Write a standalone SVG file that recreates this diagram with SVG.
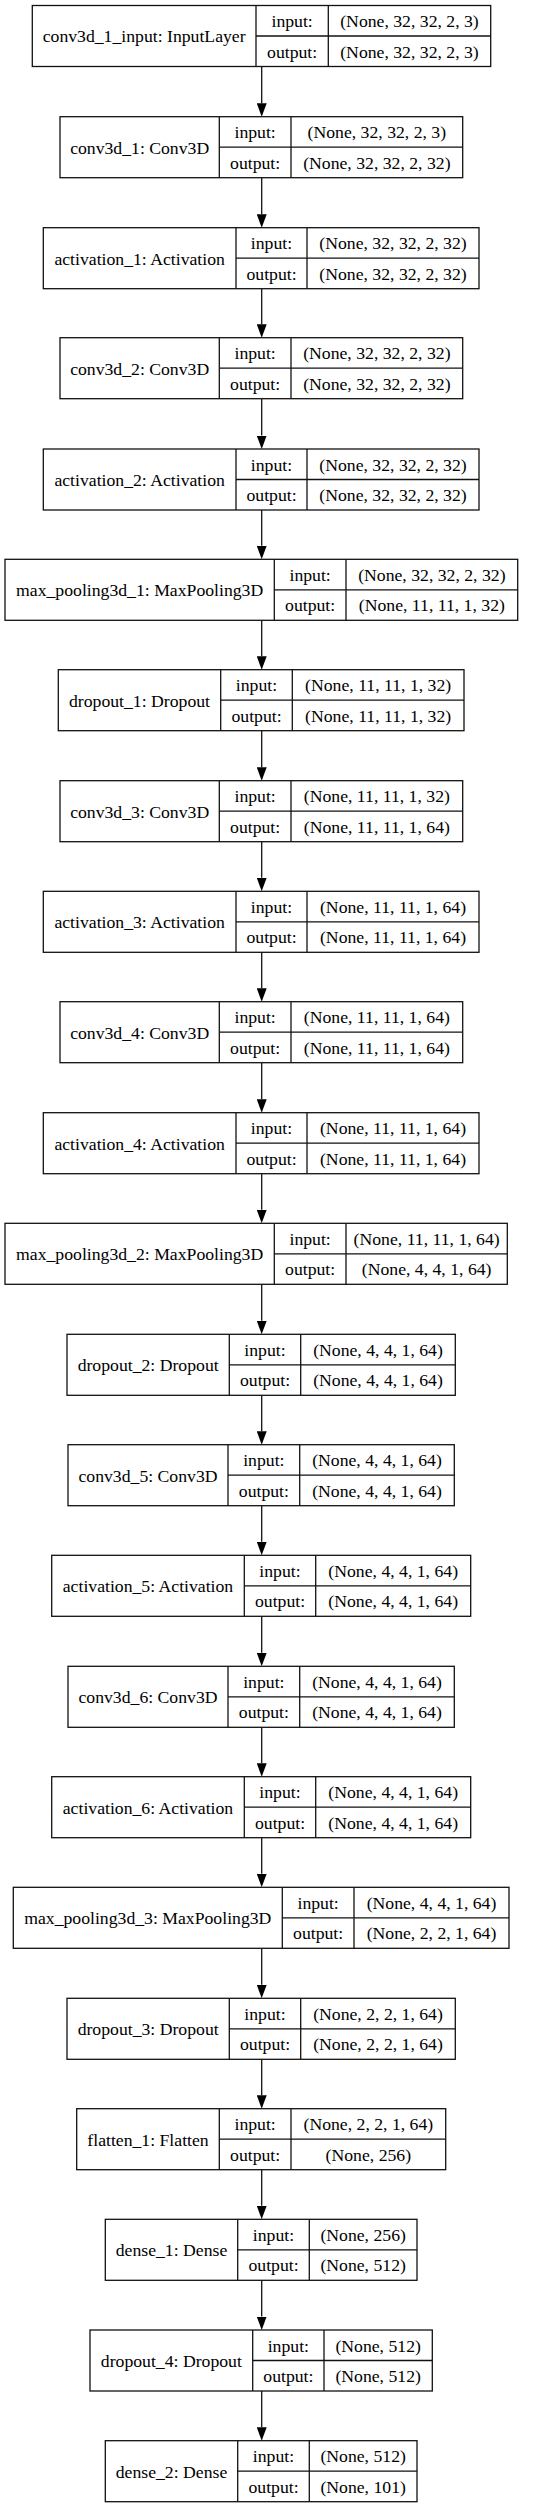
<svg xmlns="http://www.w3.org/2000/svg" width="536" height="2508" viewBox="0 0 536 2508">
<style>
.bg{fill:#fff}
.box{fill:#fff;stroke:#111;stroke-width:1.3}
.sep{stroke:#111;stroke-width:1.3}
.edge{stroke:#111;stroke-width:1.3;fill:none}
text{font-family:"Liberation Serif","Times New Roman",serif;font-size:17.7px;text-anchor:middle;fill:#000}
</style>
<defs>
<marker id="arr" markerUnits="userSpaceOnUse" markerWidth="14" markerHeight="10" refX="0" refY="5" orient="auto">
<path d="M0,0 L13.5,5 L0,10 z" fill="#000"/>
</marker>
</defs>
<rect class="bg" x="0" y="0" width="536" height="2508"/>
<g id="connectors">
<line class="edge" x1="261.7" y1="66.5" x2="261.7" y2="103.2" marker-end="url(#arr)"/>
<line class="edge" x1="261.7" y1="177.7" x2="261.7" y2="214.2" marker-end="url(#arr)"/>
<line class="edge" x1="261.7" y1="288.7" x2="261.7" y2="324.2" marker-end="url(#arr)"/>
<line class="edge" x1="261.7" y1="398.7" x2="261.7" y2="435.5" marker-end="url(#arr)"/>
<line class="edge" x1="261.7" y1="510" x2="261.7" y2="545.8" marker-end="url(#arr)"/>
<line class="edge" x1="261.7" y1="620.3" x2="261.7" y2="656.2" marker-end="url(#arr)"/>
<line class="edge" x1="261.7" y1="730.7" x2="261.7" y2="767.2" marker-end="url(#arr)"/>
<line class="edge" x1="261.7" y1="841.7" x2="261.7" y2="877.8" marker-end="url(#arr)"/>
<line class="edge" x1="261.7" y1="952.3" x2="261.7" y2="988.2" marker-end="url(#arr)"/>
<line class="edge" x1="261.7" y1="1062.7" x2="261.7" y2="1099.2" marker-end="url(#arr)"/>
<line class="edge" x1="261.7" y1="1173.7" x2="261.7" y2="1209.8" marker-end="url(#arr)"/>
<line class="edge" x1="261.7" y1="1284.3" x2="261.7" y2="1320.8" marker-end="url(#arr)"/>
<line class="edge" x1="261.7" y1="1395.3" x2="261.7" y2="1431.2" marker-end="url(#arr)"/>
<line class="edge" x1="261.7" y1="1505.7" x2="261.7" y2="1541.8" marker-end="url(#arr)"/>
<line class="edge" x1="261.7" y1="1616.3" x2="261.7" y2="1652.8" marker-end="url(#arr)"/>
<line class="edge" x1="261.7" y1="1727.3" x2="261.7" y2="1763.2" marker-end="url(#arr)"/>
<line class="edge" x1="261.7" y1="1837.7" x2="261.7" y2="1873.8" marker-end="url(#arr)"/>
<line class="edge" x1="261.7" y1="1948.3" x2="261.7" y2="1984.8" marker-end="url(#arr)"/>
<line class="edge" x1="261.7" y1="2059.3" x2="261.7" y2="2095.2" marker-end="url(#arr)"/>
<line class="edge" x1="261.7" y1="2169.7" x2="261.7" y2="2205.8" marker-end="url(#arr)"/>
<line class="edge" x1="261.7" y1="2280.3" x2="261.7" y2="2316.5" marker-end="url(#arr)"/>
<line class="edge" x1="261.7" y1="2391" x2="261.7" y2="2427.2" marker-end="url(#arr)"/>
</g>
<g id="conv3d_1_input">
<rect class="box" x="32.3" y="5.5" width="458.4" height="61"/>
<line class="sep" x1="256" y1="5.5" x2="256" y2="66.5"/><line class="sep" x1="328.3" y1="5.5" x2="328.3" y2="66.5"/><line class="sep" x1="256" y1="36" x2="490.7" y2="36"/>
<text x="144.15" y="42.3">conv3d_1_input: InputLayer</text>
<text x="292.15" y="27.05">input:</text><text x="292.15" y="57.55">output:</text>
<text x="409.5" y="27.05">(None, 32, 32, 2, 3)</text><text x="409.5" y="57.55">(None, 32, 32, 2, 3)</text>
</g>
<g id="conv3d_1">
<rect class="box" x="60" y="116.7" width="402.7" height="61"/>
<line class="sep" x1="219.3" y1="116.7" x2="219.3" y2="177.7"/><line class="sep" x1="291" y1="116.7" x2="291" y2="177.7"/><line class="sep" x1="219.3" y1="147.2" x2="462.7" y2="147.2"/>
<text x="139.65" y="153.5">conv3d_1: Conv3D</text>
<text x="255.15" y="138.25">input:</text><text x="255.15" y="168.75">output:</text>
<text x="376.85" y="138.25">(None, 32, 32, 2, 3)</text><text x="376.85" y="168.75">(None, 32, 32, 2, 32)</text>
</g>
<g id="activation_1">
<rect class="box" x="43.3" y="227.7" width="435.7" height="61"/>
<line class="sep" x1="236" y1="227.7" x2="236" y2="288.7"/><line class="sep" x1="307" y1="227.7" x2="307" y2="288.7"/><line class="sep" x1="236" y1="258.2" x2="479" y2="258.2"/>
<text x="139.65" y="264.5">activation_1: Activation</text>
<text x="271.5" y="249.25">input:</text><text x="271.5" y="279.75">output:</text>
<text x="393" y="249.25">(None, 32, 32, 2, 32)</text><text x="393" y="279.75">(None, 32, 32, 2, 32)</text>
</g>
<g id="conv3d_2">
<rect class="box" x="60" y="337.7" width="402.7" height="61"/>
<line class="sep" x1="219.3" y1="337.7" x2="219.3" y2="398.7"/><line class="sep" x1="291" y1="337.7" x2="291" y2="398.7"/><line class="sep" x1="219.3" y1="368.2" x2="462.7" y2="368.2"/>
<text x="139.65" y="374.5">conv3d_2: Conv3D</text>
<text x="255.15" y="359.25">input:</text><text x="255.15" y="389.75">output:</text>
<text x="376.85" y="359.25">(None, 32, 32, 2, 32)</text><text x="376.85" y="389.75">(None, 32, 32, 2, 32)</text>
</g>
<g id="activation_2">
<rect class="box" x="43.3" y="449" width="435.7" height="61"/>
<line class="sep" x1="236" y1="449" x2="236" y2="510"/><line class="sep" x1="307" y1="449" x2="307" y2="510"/><line class="sep" x1="236" y1="479.5" x2="479" y2="479.5"/>
<text x="139.65" y="485.8">activation_2: Activation</text>
<text x="271.5" y="470.55">input:</text><text x="271.5" y="501.05">output:</text>
<text x="393" y="470.55">(None, 32, 32, 2, 32)</text><text x="393" y="501.05">(None, 32, 32, 2, 32)</text>
</g>
<g id="max_pooling3d_1">
<rect class="box" x="5" y="559.3" width="512.7" height="61"/>
<line class="sep" x1="274.3" y1="559.3" x2="274.3" y2="620.3"/><line class="sep" x1="346" y1="559.3" x2="346" y2="620.3"/><line class="sep" x1="274.3" y1="589.8" x2="517.7" y2="589.8"/>
<text x="139.65" y="596.1">max_pooling3d_1: MaxPooling3D</text>
<text x="310.15" y="580.85">input:</text><text x="310.15" y="611.35">output:</text>
<text x="431.85" y="580.85">(None, 32, 32, 2, 32)</text><text x="431.85" y="611.35">(None, 11, 11, 1, 32)</text>
</g>
<g id="dropout_1">
<rect class="box" x="58.3" y="669.7" width="405.7" height="61"/>
<line class="sep" x1="220.7" y1="669.7" x2="220.7" y2="730.7"/><line class="sep" x1="292.3" y1="669.7" x2="292.3" y2="730.7"/><line class="sep" x1="220.7" y1="700.2" x2="464" y2="700.2"/>
<text x="139.5" y="706.5">dropout_1: Dropout</text>
<text x="256.5" y="691.25">input:</text><text x="256.5" y="721.75">output:</text>
<text x="378.15" y="691.25">(None, 11, 11, 1, 32)</text><text x="378.15" y="721.75">(None, 11, 11, 1, 32)</text>
</g>
<g id="conv3d_3">
<rect class="box" x="60" y="780.7" width="402.7" height="61"/>
<line class="sep" x1="219.3" y1="780.7" x2="219.3" y2="841.7"/><line class="sep" x1="291" y1="780.7" x2="291" y2="841.7"/><line class="sep" x1="219.3" y1="811.2" x2="462.7" y2="811.2"/>
<text x="139.65" y="817.5">conv3d_3: Conv3D</text>
<text x="255.15" y="802.25">input:</text><text x="255.15" y="832.75">output:</text>
<text x="376.85" y="802.25">(None, 11, 11, 1, 32)</text><text x="376.85" y="832.75">(None, 11, 11, 1, 64)</text>
</g>
<g id="activation_3">
<rect class="box" x="43.3" y="891.3" width="435.7" height="61"/>
<line class="sep" x1="236" y1="891.3" x2="236" y2="952.3"/><line class="sep" x1="307" y1="891.3" x2="307" y2="952.3"/><line class="sep" x1="236" y1="921.8" x2="479" y2="921.8"/>
<text x="139.65" y="928.1">activation_3: Activation</text>
<text x="271.5" y="912.85">input:</text><text x="271.5" y="943.35">output:</text>
<text x="393" y="912.85">(None, 11, 11, 1, 64)</text><text x="393" y="943.35">(None, 11, 11, 1, 64)</text>
</g>
<g id="conv3d_4">
<rect class="box" x="60" y="1001.7" width="402.7" height="61"/>
<line class="sep" x1="219.3" y1="1001.7" x2="219.3" y2="1062.7"/><line class="sep" x1="291" y1="1001.7" x2="291" y2="1062.7"/><line class="sep" x1="219.3" y1="1032.2" x2="462.7" y2="1032.2"/>
<text x="139.65" y="1038.5">conv3d_4: Conv3D</text>
<text x="255.15" y="1023.25">input:</text><text x="255.15" y="1053.75">output:</text>
<text x="376.85" y="1023.25">(None, 11, 11, 1, 64)</text><text x="376.85" y="1053.75">(None, 11, 11, 1, 64)</text>
</g>
<g id="activation_4">
<rect class="box" x="43.3" y="1112.7" width="435.7" height="61"/>
<line class="sep" x1="236" y1="1112.7" x2="236" y2="1173.7"/><line class="sep" x1="307" y1="1112.7" x2="307" y2="1173.7"/><line class="sep" x1="236" y1="1143.2" x2="479" y2="1143.2"/>
<text x="139.65" y="1149.5">activation_4: Activation</text>
<text x="271.5" y="1134.25">input:</text><text x="271.5" y="1164.75">output:</text>
<text x="393" y="1134.25">(None, 11, 11, 1, 64)</text><text x="393" y="1164.75">(None, 11, 11, 1, 64)</text>
</g>
<g id="max_pooling3d_2">
<rect class="box" x="5" y="1223.3" width="502.3" height="61"/>
<line class="sep" x1="274.3" y1="1223.3" x2="274.3" y2="1284.3"/><line class="sep" x1="346" y1="1223.3" x2="346" y2="1284.3"/><line class="sep" x1="274.3" y1="1253.8" x2="507.3" y2="1253.8"/>
<text x="139.65" y="1260.1">max_pooling3d_2: MaxPooling3D</text>
<text x="310.15" y="1244.85">input:</text><text x="310.15" y="1275.35">output:</text>
<text x="426.65" y="1244.85">(None, 11, 11, 1, 64)</text><text x="426.65" y="1275.35">(None, 4, 4, 1, 64)</text>
</g>
<g id="dropout_2">
<rect class="box" x="67" y="1334.3" width="388.3" height="61"/>
<line class="sep" x1="229.3" y1="1334.3" x2="229.3" y2="1395.3"/><line class="sep" x1="300.7" y1="1334.3" x2="300.7" y2="1395.3"/><line class="sep" x1="229.3" y1="1364.8" x2="455.3" y2="1364.8"/>
<text x="148.15" y="1371.1">dropout_2: Dropout</text>
<text x="265" y="1355.85">input:</text><text x="265" y="1386.35">output:</text>
<text x="378" y="1355.85">(None, 4, 4, 1, 64)</text><text x="378" y="1386.35">(None, 4, 4, 1, 64)</text>
</g>
<g id="conv3d_5">
<rect class="box" x="68" y="1444.7" width="386.3" height="61"/>
<line class="sep" x1="228" y1="1444.7" x2="228" y2="1505.7"/><line class="sep" x1="299.7" y1="1444.7" x2="299.7" y2="1505.7"/><line class="sep" x1="228" y1="1475.2" x2="454.3" y2="1475.2"/>
<text x="148" y="1481.5">conv3d_5: Conv3D</text>
<text x="263.85" y="1466.25">input:</text><text x="263.85" y="1496.75">output:</text>
<text x="377" y="1466.25">(None, 4, 4, 1, 64)</text><text x="377" y="1496.75">(None, 4, 4, 1, 64)</text>
</g>
<g id="activation_5">
<rect class="box" x="51.7" y="1555.3" width="419" height="61"/>
<line class="sep" x1="244.3" y1="1555.3" x2="244.3" y2="1616.3"/><line class="sep" x1="315.7" y1="1555.3" x2="315.7" y2="1616.3"/><line class="sep" x1="244.3" y1="1585.8" x2="470.7" y2="1585.8"/>
<text x="148" y="1592.1">activation_5: Activation</text>
<text x="280" y="1576.85">input:</text><text x="280" y="1607.35">output:</text>
<text x="393.2" y="1576.85">(None, 4, 4, 1, 64)</text><text x="393.2" y="1607.35">(None, 4, 4, 1, 64)</text>
</g>
<g id="conv3d_6">
<rect class="box" x="68" y="1666.3" width="386.3" height="61"/>
<line class="sep" x1="228" y1="1666.3" x2="228" y2="1727.3"/><line class="sep" x1="299.7" y1="1666.3" x2="299.7" y2="1727.3"/><line class="sep" x1="228" y1="1696.8" x2="454.3" y2="1696.8"/>
<text x="148" y="1703.1">conv3d_6: Conv3D</text>
<text x="263.85" y="1687.85">input:</text><text x="263.85" y="1718.35">output:</text>
<text x="377" y="1687.85">(None, 4, 4, 1, 64)</text><text x="377" y="1718.35">(None, 4, 4, 1, 64)</text>
</g>
<g id="activation_6">
<rect class="box" x="51.7" y="1776.7" width="419" height="61"/>
<line class="sep" x1="244.3" y1="1776.7" x2="244.3" y2="1837.7"/><line class="sep" x1="315.7" y1="1776.7" x2="315.7" y2="1837.7"/><line class="sep" x1="244.3" y1="1807.2" x2="470.7" y2="1807.2"/>
<text x="148" y="1813.5">activation_6: Activation</text>
<text x="280" y="1798.25">input:</text><text x="280" y="1828.75">output:</text>
<text x="393.2" y="1798.25">(None, 4, 4, 1, 64)</text><text x="393.2" y="1828.75">(None, 4, 4, 1, 64)</text>
</g>
<g id="max_pooling3d_3">
<rect class="box" x="13.3" y="1887.3" width="495.7" height="61"/>
<line class="sep" x1="282.3" y1="1887.3" x2="282.3" y2="1948.3"/><line class="sep" x1="354" y1="1887.3" x2="354" y2="1948.3"/><line class="sep" x1="282.3" y1="1917.8" x2="509" y2="1917.8"/>
<text x="147.8" y="1924.1">max_pooling3d_3: MaxPooling3D</text>
<text x="318.15" y="1908.85">input:</text><text x="318.15" y="1939.35">output:</text>
<text x="431.5" y="1908.85">(None, 4, 4, 1, 64)</text><text x="431.5" y="1939.35">(None, 2, 2, 1, 64)</text>
</g>
<g id="dropout_3">
<rect class="box" x="67" y="1998.3" width="388.3" height="61"/>
<line class="sep" x1="229.3" y1="1998.3" x2="229.3" y2="2059.3"/><line class="sep" x1="300.7" y1="1998.3" x2="300.7" y2="2059.3"/><line class="sep" x1="229.3" y1="2028.8" x2="455.3" y2="2028.8"/>
<text x="148.15" y="2035.1">dropout_3: Dropout</text>
<text x="265" y="2019.85">input:</text><text x="265" y="2050.35">output:</text>
<text x="378" y="2019.85">(None, 2, 2, 1, 64)</text><text x="378" y="2050.35">(None, 2, 2, 1, 64)</text>
</g>
<g id="flatten_1">
<rect class="box" x="76.7" y="2108.7" width="369" height="61"/>
<line class="sep" x1="219.3" y1="2108.7" x2="219.3" y2="2169.7"/><line class="sep" x1="291" y1="2108.7" x2="291" y2="2169.7"/><line class="sep" x1="219.3" y1="2139.2" x2="445.7" y2="2139.2"/>
<text x="148" y="2145.5">flatten_1: Flatten</text>
<text x="255.15" y="2130.25">input:</text><text x="255.15" y="2160.75">output:</text>
<text x="368.35" y="2130.25">(None, 2, 2, 1, 64)</text><text x="368.35" y="2160.75">(None, 256)</text>
</g>
<g id="dense_1">
<rect class="box" x="105.3" y="2219.3" width="311.7" height="61"/>
<line class="sep" x1="237.7" y1="2219.3" x2="237.7" y2="2280.3"/><line class="sep" x1="309.3" y1="2219.3" x2="309.3" y2="2280.3"/><line class="sep" x1="237.7" y1="2249.8" x2="417" y2="2249.8"/>
<text x="171.5" y="2256.1">dense_1: Dense</text>
<text x="273.5" y="2240.85">input:</text><text x="273.5" y="2271.35">output:</text>
<text x="363.15" y="2240.85">(None, 256)</text><text x="363.15" y="2271.35">(None, 512)</text>
</g>
<g id="dropout_4">
<rect class="box" x="90" y="2330" width="342.3" height="61"/>
<line class="sep" x1="252.7" y1="2330" x2="252.7" y2="2391"/><line class="sep" x1="324" y1="2330" x2="324" y2="2391"/><line class="sep" x1="252.7" y1="2360.5" x2="432.3" y2="2360.5"/>
<text x="171.35" y="2366.8">dropout_4: Dropout</text>
<text x="288.35" y="2351.55">input:</text><text x="288.35" y="2382.05">output:</text>
<text x="378.15" y="2351.55">(None, 512)</text><text x="378.15" y="2382.05">(None, 512)</text>
</g>
<g id="dense_2">
<rect class="box" x="105.3" y="2440.7" width="311.7" height="61"/>
<line class="sep" x1="237.7" y1="2440.7" x2="237.7" y2="2501.7"/><line class="sep" x1="309.3" y1="2440.7" x2="309.3" y2="2501.7"/><line class="sep" x1="237.7" y1="2471.2" x2="417" y2="2471.2"/>
<text x="171.5" y="2477.5">dense_2: Dense</text>
<text x="273.5" y="2462.25">input:</text><text x="273.5" y="2492.75">output:</text>
<text x="363.15" y="2462.25">(None, 512)</text><text x="363.15" y="2492.75">(None, 101)</text>
</g>
</svg>
